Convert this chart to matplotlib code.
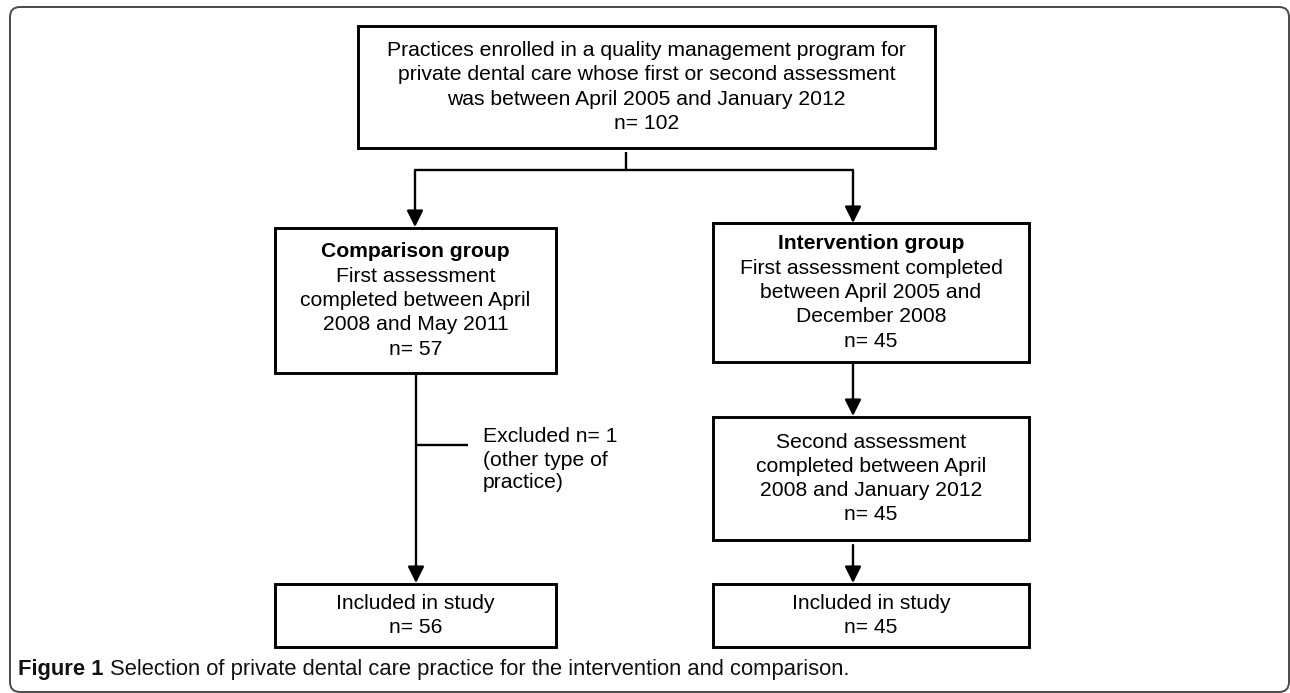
import matplotlib
matplotlib.use("Agg")
import matplotlib.pyplot as plt
from matplotlib.patches import Rectangle, FancyBboxPatch

# box contents
enrolled_lines = ["Practices enrolled in a quality management program for",
                  "private dental care whose first or second assessment",
                  "was between April 2005 and January 2012"]
n_enrolled = 102

comparison_title = "Comparison group"
comparison_lines = ["First assessment", "completed between April", "2008 and May 2011"]
n_comparison = 57

intervention_title = "Intervention group"
intervention_lines = ["First assessment completed", "between April 2005 and", "December 2008"]
n_intervention = 45

second_lines = ["Second assessment", "completed between April", "2008 and January 2012"]
n_second = 45

n_excluded = 1
excluded_lines = ["Excluded n= %d" % n_excluded, "(other type of", "practice)"]

included_label = "Included in study"
n_included = [56, 45]

caption_bold = "Figure 1"
caption_rest = "Selection of private dental care practice for the intervention and comparison."

FONT = "Liberation Sans"
FS = 15.2
LINE = 24.3

fig = plt.figure(figsize=(12.9, 6.93), dpi=100)
ax = fig.add_axes([0, 0, 1, 1])
ax.set_xlim(0, 1290)
ax.set_ylim(693, 0)
ax.axis("off")


def box(x0, y0, x1, y1, lines, bold_first=False):
    ax.add_patch(Rectangle((x0, y0), x1 - x0, y1 - y0, fill=False,
                           ec="black", lw=2.1))
    cx = (x0 + x1) / 2
    n = len(lines)
    y_first = (y0 + y1) / 2 - (n - 1) * LINE / 2
    for i, t in enumerate(lines):
        ax.text(cx, y_first + i * LINE, t, ha="center", va="center",
                fontsize=FS, family=FONT,
                fontweight="bold" if (bold_first and i == 0) else "normal")


def arrow(x, y0, y1):
    ax.annotate("", xy=(x, y1), xytext=(x, y0),
                arrowprops=dict(arrowstyle="-|>,head_length=0.9,head_width=0.45",
                                mutation_scale=11, lw=1.7, color="black",
                                shrinkA=0, shrinkB=0))


def seg(xs, ys):
    ax.plot(xs, ys, color="black", lw=1.7, solid_capstyle="butt")


# outer rounded frame
ax.add_patch(FancyBboxPatch((10, 7), 1279, 685,
                            boxstyle="round,pad=0,rounding_size=10",
                            fill=False, ec="#4a4a4a", lw=1.4, clip_on=False))

# top box
box(358, 26, 935, 148, enrolled_lines + ["n= %d" % n_enrolled])

# split
seg([626, 626], [152, 170])
seg([415, 853], [170, 170])
arrow(415, 170, 227)
arrow(853, 170, 223)

# comparison branch
box(275, 228, 556, 373, [comparison_title] + comparison_lines + ["n= %d" % n_comparison],
    bold_first=True)
arrow(416, 373, 583)
seg([416, 468], [445, 445])
for i, t in enumerate(excluded_lines):
    ax.text(483, 437 + i * 23, t, ha="left", va="center", fontsize=FS, family=FONT)
box(275, 584, 556, 647, [included_label, "n= %d" % n_included[0]])

# intervention branch
box(713, 223, 1029, 362, [intervention_title] + intervention_lines + ["n= %d" % n_intervention],
    bold_first=True)
arrow(853, 362, 416)
box(713, 417, 1029, 540, second_lines + ["n= %d" % n_second])
arrow(853, 545, 583)
box(713, 584, 1029, 647, [included_label, "n= %d" % n_included[1]])

# caption
cap = ax.text(18, 669, caption_bold, ha="left", va="center", fontsize=15.8,
              family=FONT, fontweight="bold", color="#111111")
fig.canvas.draw()
bb = cap.get_window_extent().transformed(ax.transData.inverted())
ax.text(bb.x1 + 6, 669, caption_rest, ha="left", va="center", fontsize=15.8,
        family=FONT, color="#111111")

fig.savefig("out.png", dpi=100)
